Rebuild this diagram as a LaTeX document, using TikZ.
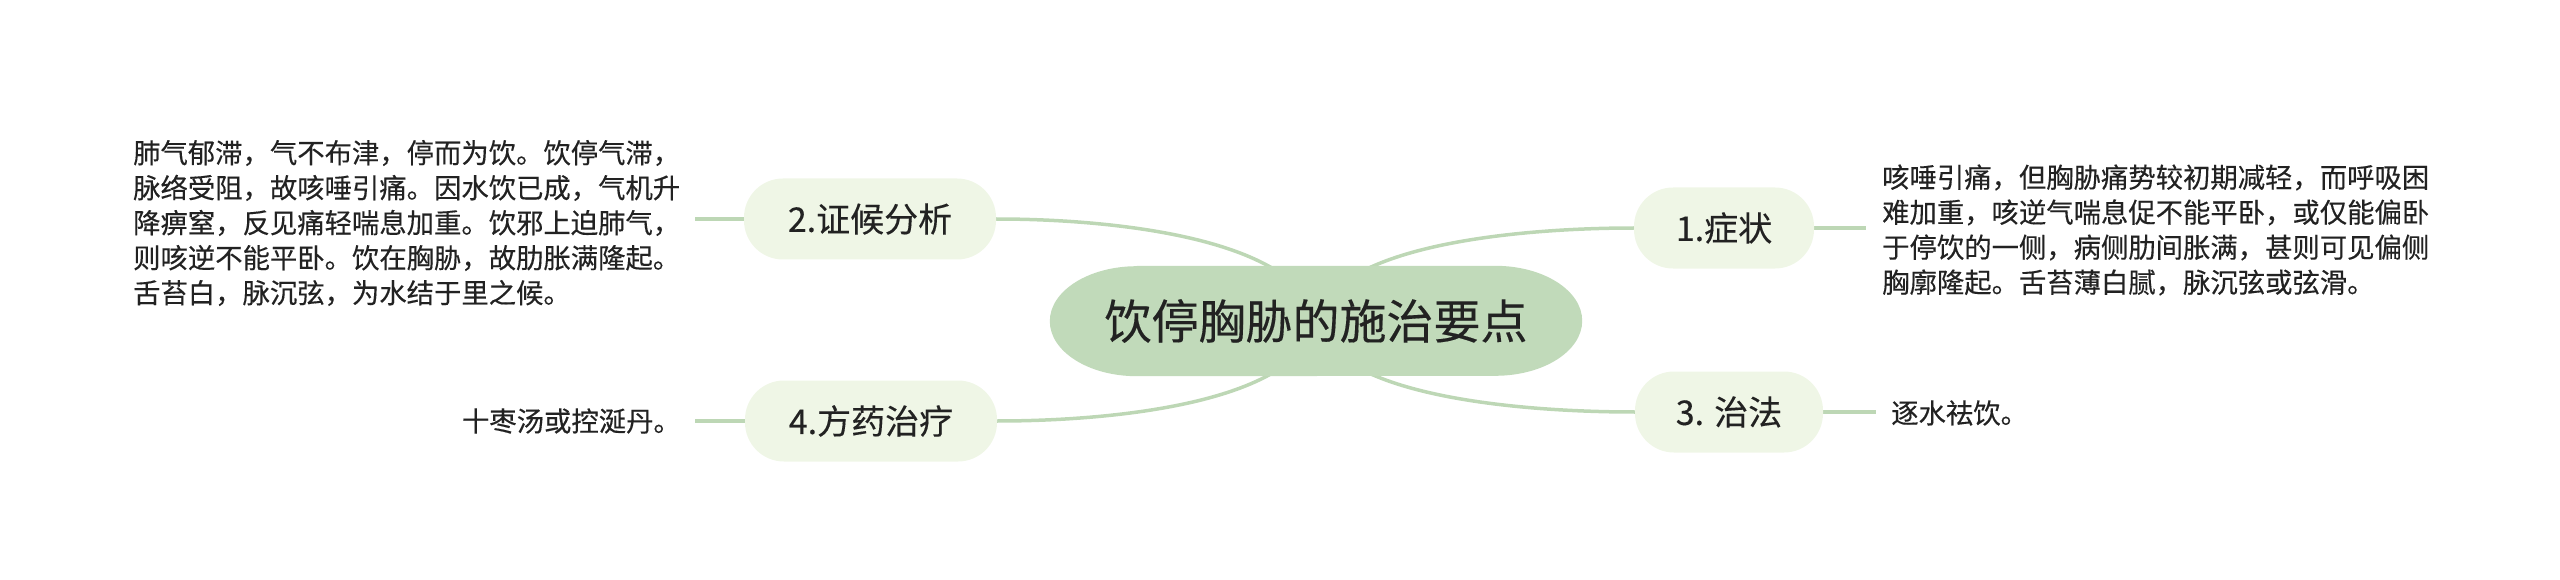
\documentclass[tikz,border=0pt]{standalone}
\usepackage{fontspec}
\setmainfont{Noto Sans CJK SC}[FakeBold=0.3]
\usetikzlibrary{backgrounds}
\definecolor{rootfill}{HTML}{C1DABA}
\definecolor{branchfill}{HTML}{EFF6E6}
\definecolor{linkcol}{HTML}{BDD7B5}
\definecolor{txt}{HTML}{222222}
\tikzset{
  rootnode/.style={inner sep=0pt, minimum width=532pt, minimum height=110pt, text=txt,
    font=\fontsize{47}{56}\selectfont},
  branchnode/.style={fill=branchfill, rounded corners=39pt, inner sep=0pt, minimum height=81pt,
    text=txt, font=\fontsize{34}{40}\selectfont},
  leaf/.style={inner sep=0pt, text=txt, align=left, font=\fontsize{27.35}{35}\selectfont},
  link/.style={draw=linkcol, line width=3.5pt},
}
\begin{document}
\begin{tikzpicture}[x=1pt, y=-1pt]
\useasboundingbox (0,0) rectangle (2560,580);
% nodes
\node[rootnode] (root) at (1316,321) {饮停胸胁的施治要点};
\node[branchnode, minimum width=180pt] (b1) at (1724,228) {1.症状};
\node[branchnode, minimum width=252pt] (b2) at (870,219) {2.证候分析};
\node[branchnode, minimum width=188pt] (b3) at (1729,412) {3. 治法};
\node[branchnode, minimum width=252pt] (b4) at (871,421) {4.方药治疗};
\node[leaf, anchor=west] (t1) at (1882,230) {咳唾引痛，但胸胁痛势较初期减轻，而呼吸困\\难加重，咳逆气喘息促不能平卧，或仅能偏卧\\于停饮的一侧，病侧肋间胀满，甚则可见偏侧\\胸廓隆起。舌苔薄白腻，脉沉弦或弦滑。};
\node[leaf, anchor=west] (t2) at (133,223) {肺气郁滞，气不布津，停而为饮。饮停气滞，\\脉络受阻，故咳唾引痛。因水饮已成，气机升\\降痹窒，反见痛轻喘息加重。饮邪上迫肺气，\\则咳逆不能平卧。饮在胸胁，故肋胀满隆起。\\舌苔白，脉沉弦，为水结于里之候。};
\node[leaf, anchor=west] (t3) at (1891,413) {逐水祛饮。};
\node[leaf, anchor=east] (t4) at (681,421) {十枣汤或控涎丹。};
\coordinate (e1) at (1866,228);
\coordinate (e2) at (695,219);
\coordinate (e3) at (1876,412);
\coordinate (e4) at (695,421);
\begin{scope}[on background layer]
  \draw[link] (root.center) .. controls (1300,240) and (1120,219) .. (b2.east);
  \draw[link] (root.center) .. controls (1300,401) and (1121,421) .. (b4.east);
  \draw[link] (root.center) .. controls (1332,247) and (1510,228) .. (b1.west);
  \draw[link] (root.center) .. controls (1332,394) and (1510,412) .. (b3.west);
  \draw[link] (b1.east) -- (e1);
  \draw[link] (b2.west) -- (e2);
  \draw[link] (b3.east) -- (e3);
  \draw[link] (b4.west) -- (e4);
  \fill[rootfill] ([xshift=87pt]root.north west) -- ([xshift=-87pt]root.north east)
     arc[start angle=90, end angle=-90, x radius=87pt, y radius=55pt]
     -- ([xshift=87pt]root.south west)
     arc[start angle=270, end angle=90, x radius=87pt, y radius=55pt] -- cycle;
\end{scope}
\end{tikzpicture}
\end{document}
